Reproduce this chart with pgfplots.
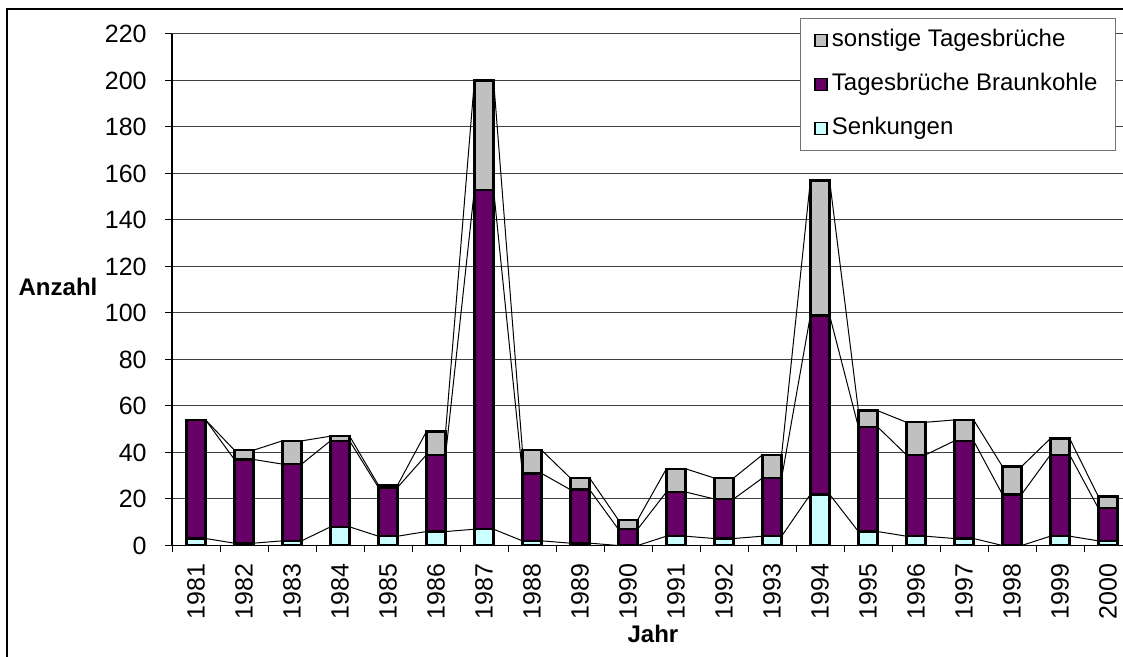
\documentclass[border=0pt]{standalone}
\usepackage{fontspec}
\setmainfont{Liberation Sans}
\usepackage{pgfplots}
\usepackage{pgfplotstable}
\pgfplotsset{compat=1.18}

\definecolor{sonst}{HTML}{C0C0C0}
\definecolor{braun}{HTML}{660066}
\definecolor{senk}{HTML}{CCFFFF}

% x = Jahr (0 = 1981), s = Senkungen, b = Senkungen + Braunkohle, t = Summe
\pgfplotstableread{
x s b t
0 3 54 54
1 1 37 41
2 2 35 45
3 8 45 47
4 4 25 26
5 6 39 49
6 7 153 200
7 2 31 41
8 1 24 29
9 0 7 11
10 4 23 33
11 3 20 29
12 4 29 39
13 22 99 157
14 6 51 58
15 4 39 53
16 3 45 54
17 0 22 34
18 4 39 46
19 2 16 21
}\bars

% Verbindungslinien: linke und rechte Kante jedes Balkens
\pgfplotstableread{
x s b t
-0.2 3 54 54
0.2 3 54 54
0.8 1 37 41
1.2 1 37 41
1.8 2 35 45
2.2 2 35 45
2.8 8 45 47
3.2 8 45 47
3.8 4 25 26
4.2 4 25 26
4.8 6 39 49
5.2 6 39 49
5.8 7 153 200
6.2 7 153 200
6.8 2 31 41
7.2 2 31 41
7.8 1 24 29
8.2 1 24 29
8.8 0 7 11
9.2 0 7 11
9.8 4 23 33
10.2 4 23 33
10.8 3 20 29
11.2 3 20 29
11.8 4 29 39
12.2 4 29 39
12.8 22 99 157
13.2 22 99 157
13.8 6 51 58
14.2 6 51 58
14.8 4 39 53
15.2 4 39 53
15.8 3 45 54
16.2 3 45 54
16.8 0 22 34
17.2 0 22 34
17.8 4 39 46
18.2 4 39 46
18.8 2 16 21
19.2 2 16 21
}\verb

\begin{document}
\begin{tikzpicture}
\begin{axis}[
    at={(86pt,55.75pt)}, anchor=south west,
    scale only axis,
    width=480pt, height=255.75pt,
    xmin=-0.5, xmax=19.5,
    ymin=0, ymax=220,
    axis lines*=left,
    axis line style={black, line width=0.6pt},
    tick align=outside,
    major tick length=3.5pt,
    minor tick length=3.5pt,
    tick style={black, line width=0.5pt},
    ytick={0,20,...,220},
    xtick={0,...,19},
    xticklabels={1981,1982,1983,1984,1985,1986,1987,1988,1989,1990,1991,1992,1993,1994,1995,1996,1997,1998,1999,2000},
    minor xtick={-0.5,0.5,...,19.5},
    major x tick style={draw=none},
    ymajorgrids,
    major grid style={black!75, line width=0.5pt},
    /pgf/number format/assume math mode=true,
    yticklabel={\pgfmathprintnumber{\tick}},
    yticklabel style={font=\fontsize{12.5}{15}\selectfont, anchor=east, inner sep=0pt, xshift=-9pt},
    xticklabel style={font=\fontsize{12.5}{15}\selectfont, yshift=-5.5pt, rotate=90, anchor=east, inner sep=0pt},
    xlabel={Jahr}, ylabel={Anzahl},
    every axis x label/.style={at={(axis description cs:0.501,0)}, anchor=center, yshift=-44.25pt, font=\bfseries\large},
    every axis y label/.style={at={(axis description cs:0,0.505)}, anchor=center, xshift=-57pt, font=\bfseries\large},
    legend style={at={(axis description cs:0.654,1.031)}, anchor=north west,
        draw=black!55, line width=0.5pt, fill=white,
        font=\large,
        inner xsep=7pt, inner ysep=3pt, row sep=6pt,
        nodes={text height=9pt, text depth=3pt}},
    legend cell align=left,
    legend image code/.code={\draw[#1, line width=0.8pt] (0.5pt,-3pt) rectangle (6.5pt,3pt);},
]
\addplot[sharp plot, black, line width=0.5pt, forget plot] table[x=x, y=t] {\verb};
\addplot[sharp plot, black, line width=0.5pt, forget plot] table[x=x, y=b] {\verb};
\addplot[sharp plot, black, line width=0.5pt, forget plot] table[x=x, y=s] {\verb};

\addplot[ybar, bar width=0.4, bar shift=0pt, fill=sonst, draw=black, line width=1.2pt] table[x=x, y=t] {\bars};
\addlegendentry{sonstige Tagesbrüche}
\addplot[ybar, bar width=0.4, bar shift=0pt, fill=braun, draw=black, line width=1.2pt] table[x=x, y=b] {\bars};
\addlegendentry{Tagesbrüche Braunkohle}
\addplot[ybar, bar width=0.4, bar shift=0pt, fill=senk, draw=black, line width=1.2pt] table[x=x, y=s] {\bars};
\addlegendentry{Senkungen}
\end{axis}
\draw[black, line width=0.6pt] (3.5pt,-5pt) rectangle (570pt,324pt);
\pgfresetboundingbox
\useasboundingbox (0,0) rectangle (561.5pt,328.5pt);
\end{tikzpicture}
\end{document}
